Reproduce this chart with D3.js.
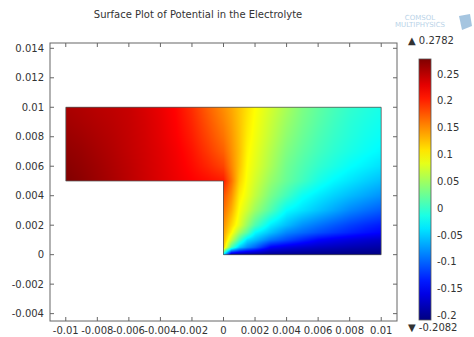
<!DOCTYPE html>
<html><head><meta charset="utf-8">
<script src="https://cdn.jsdelivr.net/npm/d3@7"></script>
<style>html,body{margin:0;padding:0;background:#fff;} svg{display:block;font-family:"DejaVu Sans",sans-serif;}</style>
</head><body><div id="chart"></div>
<script>
// ---------- data ----------
const titleText = "Surface Plot of Potential in the Electrolyte";
const xTicks = [-0.01,-0.008,-0.006,-0.004,-0.002,0,0.002,0.004,0.006,0.008,0.01];
const xTickLabels = ["-0.01","-0.008","-0.006","-0.004","-0.002","0","0.002","0.004","0.006","0.008","0.01"];
const yTicks = [-0.004,-0.002,0,0.002,0.004,0.006,0.008,0.01,0.012,0.014];
const yTickLabels = ["-0.004","-0.002","0","0.002","0.004","0.006","0.008","0.01","0.012","0.014"];
const colorTicks = [0.25,0.2,0.15,0.1,0.05,0,-0.05,-0.1,-0.15,-0.2];
const colorTickLabels = ["0.25","0.2","0.15","0.1","0.05","0","-0.05","-0.1","-0.15","-0.2"];
const potentialMax = 0.2782, potentialMin = -0.2082;
const maxLabel = "0.2782", minLabel = "-0.2082";
// L-shaped electrolyte domain (m)
const domainOutline = [[-0.01,0.01],[0.01,0.01],[0.01,0],[0,0],[0,0.005],[-0.01,0.005]];
// sample nodes (m)
const gridX = [-0.010,-0.009,-0.008,-0.007,-0.006,-0.005,-0.004,-0.003,-0.002,-0.001,0,0.0005,0.001,0.0015,0.002,0.003,0.004,0.005,0.006,0.007,0.008,0.009,0.010];
const gridY = [0.010,0.009,0.008,0.007,0.006,0.005,0.004,0.003,0.002,0.0015,0.001,0.0005,0];
const _ = null;
// potential (V), rows top (y=0.01) to bottom (y=0)
const potential = [
 [0.258,0.255,0.251,0.248,0.244,0.236,0.227,0.215,0.196,0.172,0.150,0.138,0.124,0.110,0.096,0.075,0.054,0.034,0.020,0.008,-0.002,-0.009,-0.015],
 [0.262,0.258,0.254,0.250,0.245,0.238,0.229,0.217,0.200,0.178,0.156,0.142,0.125,0.107,0.093,0.070,0.048,0.030,0.016,0.004,-0.006,-0.013,-0.019],
 [0.266,0.262,0.257,0.252,0.246,0.239,0.230,0.219,0.204,0.184,0.163,0.146,0.126,0.104,0.090,0.066,0.042,0.025,0.011,0.000,-0.009,-0.017,-0.023],
 [0.270,0.266,0.260,0.254,0.247,0.240,0.232,0.222,0.209,0.191,0.172,0.150,0.127,0.100,0.086,0.060,0.035,0.019,0.006,-0.005,-0.014,-0.022,-0.029],
 [0.274,0.269,0.263,0.256,0.249,0.241,0.233,0.224,0.213,0.200,0.185,0.155,0.125,0.096,0.082,0.055,0.028,0.012,-0.002,-0.013,-0.024,-0.032,-0.040],
 [0.278,0.272,0.265,0.258,0.250,0.242,0.234,0.226,0.218,0.212,0.205,0.165,0.118,0.092,0.075,0.045,0.023,0.005,-0.014,-0.028,-0.038,-0.048,-0.057],
 [_,_,_,_,_,_,_,_,_,_,0.180,0.150,0.105,0.086,0.066,0.031,0.005,-0.021,-0.035,-0.047,-0.058,-0.068,-0.078],
 [_,_,_,_,_,_,_,_,_,_,0.165,0.135,0.094,0.072,0.048,0.012,-0.026,-0.040,-0.054,-0.068,-0.083,-0.094,-0.104],
 [_,_,_,_,_,_,_,_,_,_,0.150,0.115,0.082,0.045,0.012,-0.034,-0.057,-0.078,-0.092,-0.105,-0.117,-0.127,-0.135],
 [_,_,_,_,_,_,_,_,_,_,0.142,0.100,0.052,0.018,-0.026,-0.056,-0.083,-0.097,-0.110,-0.121,-0.131,-0.140,-0.147],
 [_,_,_,_,_,_,_,_,_,_,0.135,0.070,0.010,-0.040,-0.057,-0.092,-0.112,-0.130,-0.147,-0.156,-0.163,-0.169,-0.174],
 [_,_,_,_,_,_,_,_,_,_,0.125,0.012,-0.050,-0.080,-0.100,-0.150,-0.162,-0.170,-0.176,-0.180,-0.184,-0.187,-0.190],
 [_,_,_,_,_,_,_,_,_,_,-0.040,-0.195,-0.198,-0.200,-0.201,-0.202,-0.203,-0.204,-0.205,-0.206,-0.207,-0.207,-0.208]
];

// ---------- chart ----------
const W = 474, H = 337;
const svg = d3.select("#chart").append("svg").attr("width", W).attr("height", H);
const x = d3.scaleLinear().domain([-0.011, 0.011]).range([50, 397]);
const y = d3.scaleLinear().domain([-0.0045, 0.01436]).range([321, 43]);
const cb = d3.scaleLinear().domain([potentialMin, potentialMax]).range([320, 59]);

function jet(t) {
  t = Math.max(0, Math.min(1, t));
  const c = v => Math.round(255 * Math.max(0, Math.min(1, v)));
  return [c(1.5 - Math.abs(4*t - 3)), c(1.5 - Math.abs(4*t - 2)), c(1.5 - Math.abs(4*t - 1))];
}
const tOf = v => (v - potentialMin) / (potentialMax - potentialMin);

function inside(px, py) {
  return (px >= -0.01 && px <= 0.01 && py >= 0.005 && py <= 0.01) ||
         (px >= 0 && px <= 0.01 && py >= 0 && py <= 0.01);
}
function findCellAsc(arr, v) {
  let i = d3.bisectRight(arr, v) - 1;
  return Math.max(0, Math.min(arr.length - 2, i));
}
function findCellDesc(arr, v) {
  let i = 0;
  while (i < arr.length - 2 && v < arr[i + 1]) i++;
  return i;
}
function sample(px, py) {
  const i = findCellAsc(gridX, px), j = findCellDesc(gridY, py);
  const x0 = gridX[i], x1 = gridX[i+1], y0 = gridY[j], y1 = gridY[j+1];
  const u = (px - x0) / (x1 - x0), w = (py - y0) / (y1 - y0);
  const a = potential[j][i], b = potential[j][i+1], c = potential[j+1][i], d = potential[j+1][i+1];
  if ([a,b,c,d].some(v => v === null)) {
    return d3.mean([a,b,c,d].filter(v => v !== null));
  }
  return a*(1-u)*(1-w) + b*u*(1-w) + c*(1-u)*w + d*u*w;
}

// field image
const px0 = Math.floor(x(-0.01)), px1 = Math.ceil(x(0.01));
const py0 = Math.floor(y(0.01)), py1 = Math.ceil(y(0));
const cw = px1 - px0, ch = py1 - py0;
const canvas = document.createElement("canvas");
canvas.width = cw; canvas.height = ch;
const ctx = canvas.getContext("2d");
const img = ctx.createImageData(cw, ch);
for (let j = 0; j < ch; j++) {
  for (let i = 0; i < cw; i++) {
    const dx = x.invert(px0 + i + 0.5), dy = y.invert(py0 + j + 0.5);
    if (!inside(dx, dy)) continue;
    const [r, g, b] = jet(tOf(sample(dx, dy)));
    const k = 4 * (j * cw + i);
    img.data[k] = r; img.data[k+1] = g; img.data[k+2] = b; img.data[k+3] = 255;
  }
}
ctx.putImageData(img, 0, 0);
svg.append("image").attr("x", px0).attr("y", py0).attr("width", cw).attr("height", ch)
  .attr("href", canvas.toDataURL());

// domain outline
svg.append("path")
  .attr("d", d3.line().x(d => x(d[0])).y(d => y(d[1]))(domainOutline) + "Z")
  .attr("fill", "none").attr("stroke", "#555").attr("stroke-width", 0.8);

// frame
const fx0 = x.range()[0], fx1 = x.range()[1], fy0 = y.range()[1], fy1 = y.range()[0];
svg.append("rect").attr("x", fx0).attr("y", fy0).attr("width", fx1 - fx0).attr("height", fy1 - fy0)
  .attr("fill", "none").attr("stroke", "#666").attr("stroke-width", 1);
const tl = 4;
const tickG = svg.append("g").attr("stroke", "#666").attr("stroke-width", 1);
xTicks.forEach(t => {
  tickG.append("line").attr("x1", x(t)).attr("x2", x(t)).attr("y1", fy1).attr("y2", fy1 - tl);
  tickG.append("line").attr("x1", x(t)).attr("x2", x(t)).attr("y1", fy0).attr("y2", fy0 + tl);
});
yTicks.forEach(t => {
  tickG.append("line").attr("y1", y(t)).attr("y2", y(t)).attr("x1", fx0).attr("x2", fx0 + tl);
  tickG.append("line").attr("y1", y(t)).attr("y2", y(t)).attr("x1", fx1).attr("x2", fx1 - tl);
});
const txt = svg.append("g").attr("fill", "#333").attr("font-size", 10);
xTicks.forEach((t, k) => {
  txt.append("text").attr("x", x(t)).attr("y", fy1 + 13).attr("text-anchor", "middle").text(xTickLabels[k]);
});
yTicks.forEach((t, k) => {
  txt.append("text").attr("x", fx0 - 6).attr("y", y(t)).attr("dy", "0.35em").attr("text-anchor", "end").text(yTickLabels[k]);
});

// title
svg.append("text").attr("x", 198).attr("y", 18).attr("text-anchor", "middle")
  .attr("font-size", 10).attr("fill", "#333").text(titleText);

// colorbar
const defs = svg.append("defs");
const grad = defs.append("linearGradient").attr("id", "jetgrad").attr("x1", 0).attr("y1", 1).attr("x2", 0).attr("y2", 0);
d3.range(0, 1.0001, 0.05).forEach(t => {
  const [r, g, b] = jet(t);
  grad.append("stop").attr("offset", t).attr("stop-color", `rgb(${r},${g},${b})`);
});
svg.append("rect").attr("x", 419).attr("y", cb(potentialMax)).attr("width", 12)
  .attr("height", cb(potentialMin) - cb(potentialMax))
  .attr("fill", "url(#jetgrad)").attr("stroke", "#555").attr("stroke-width", 0.8);
colorTicks.forEach((t, k) => {
  txt.append("text").attr("x", 437).attr("y", cb(t)).attr("dy", "0.35em").text(colorTickLabels[k]);
});
txt.append("text").attr("x", 408).attr("y", 40).attr("dy", "0.35em").text("\u25B2 " + maxLabel);
txt.append("text").attr("x", 408).attr("y", 327).attr("dy", "0.35em").text("\u25BC " + minLabel);

// faint logo
const logo = svg.append("g").attr("fill", "#b9d3e8").attr("font-size", 7).attr("text-anchor", "middle");
logo.append("text").attr("x", 420).attr("y", 20).text("COMSOL");
logo.append("text").attr("x", 420).attr("y", 27).text("MULTIPHYSICS");
svg.append("path").attr("d", "M459,16 L470,14 L472,26 L462,30 Z").attr("fill", "#8fb6d8").attr("opacity", 0.8);
</script></body></html>
